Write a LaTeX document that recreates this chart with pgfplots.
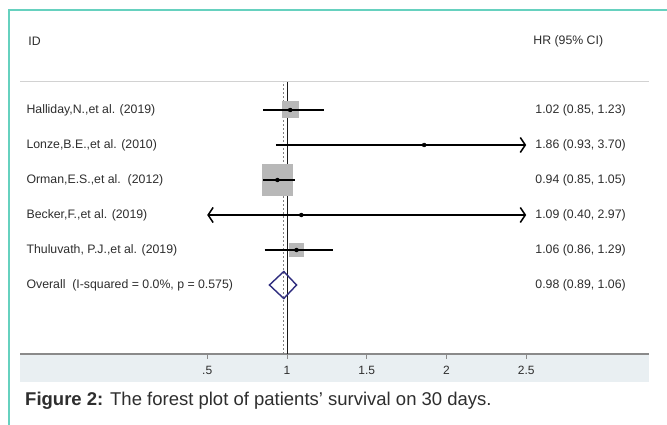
\documentclass[border=0pt]{standalone}
\usepackage{fontspec}
\setmainfont{Liberation Sans}
\usepackage{pgfplots}
\pgfplotsset{compat=1.18}
\usetikzlibrary{arrows.meta}
\definecolor{teal1}{HTML}{66D1BF}
\definecolor{band}{HTML}{E9EFF2}
\definecolor{boxgray}{HTML}{B8B8B8}
\definecolor{navy1}{HTML}{2E2C7E}
\definecolor{txt}{HTML}{2E2E2E}
\definecolor{axgray}{HTML}{8A8A8A}
\tikzset{
  lab/.style={anchor=west, font=\fontsize{12.3}{14}\selectfont, text=txt},
  ci/.style={black, line width=1.5pt},
  wbox/.style={fill=boxgray, draw=none}
}
\begin{document}
\begin{tikzpicture}[x=1pt,y=1pt]
\path[use as bounding box] (0,0) rectangle (667,425);
\fill[white] (0,0) rectangle (667,425);
\fill[band] (20,43) rectangle (649,71);
\draw[teal1, line width=1.8pt] (9,0) -- (9,415) -- (667,415);
\begin{axis}[at={(20pt,71pt)}, anchor=south west, scale only axis,
  width=629pt, height=344pt,
  xmin=-0.674, xmax=3.270, ymin=-0.971, ymax=8.857,
  clip=false,
  axis x line*=bottom, axis y line=none,
  x axis line style={-, draw=axgray, line width=1.3pt},
  xtick={0.5,1,1.5,2,2.5}, xticklabels={.5,1,1.5,2,2.5},
  tick align=outside, major tick length=5pt,
  tick style={draw=axgray, line width=0.8pt},
  xticklabel style={font=\fontsize{12}{14}\selectfont, text=txt, yshift=-4pt},
  /pgf/number format/assume math mode=true
]
% reference lines
\addplot[gray!35, line width=1pt] coordinates {(-0.674,6.8) (3.27,6.8)};
\addplot[black!90, line width=0.9pt] coordinates {(1,-0.971) (1,6.8)};
\addplot[gray, dashed, dash pattern=on 2pt off 2pt, line width=0.8pt] coordinates {(0.98,-0.971) (0.98,6.8)};
% weight boxes (half side: 8.5px, 15.8px, 7.5px)
\addplot[wbox] coordinates {(0.9667,5.757) (1.0733,5.757) (1.0733,6.243) (0.9667,6.243)} -- cycle;
\addplot[wbox] coordinates {(0.8409,3.549) (1.0391,3.549) (1.0391,4.451) (0.8409,4.451)} -- cycle;
\addplot[wbox] coordinates {(1.0130,1.786) (1.1070,1.786) (1.1070,2.214) (1.0130,2.214)} -- cycle;
% confidence intervals
\addplot[ci] coordinates {(0.85,6) (1.23,6)};
\addplot[ci, -{Straight Barb[length=5pt,width=15pt]}] coordinates {(0.93,5) (2.5,5)};
\addplot[ci] coordinates {(0.85,4) (1.05,4)};
\addplot[ci, {Straight Barb[length=5pt,width=15pt]}-{Straight Barb[length=5pt,width=15pt]}] coordinates {(0.5,3) (2.5,3)};
\addplot[ci] coordinates {(0.86,2) (1.29,2)};
% point estimates
\addplot[only marks, mark=*, mark size=2pt, black] coordinates {(1.02,6) (1.86,5) (0.94,4) (1.09,3) (1.06,2)};
% overall diamond
\addplot[navy1, line width=1.4pt, line join=miter] coordinates {(0.89,1) (0.98,1.386) (1.06,1) (0.98,0.614) (0.89,1) (0.98,1.386)};
% text
\node[lab] at (axis cs:-0.643,7.971) {ID};
\node[lab] at (axis cs:2.523,7.971) {HR (95\% CI)};
\node[lab] at (axis cs:-0.655,6) {Halliday,N.,et al. (2019)};
\node[lab] at (axis cs:-0.655,5) {Lonze,B.E.,et al. (2010)};
\node[lab] at (axis cs:-0.655,4) {Orman,E.S.,et al.\ \ (2012)};
\node[lab] at (axis cs:-0.655,3) {Becker,F.,et al. (2019)};
\node[lab] at (axis cs:-0.655,2) {Thuluvath, P.J.,et al. (2019)};
\node[lab] at (axis cs:-0.655,1) {Overall\ \ (I-squared = 0.0\%, p = 0.575)};
\node[lab] at (axis cs:2.536,6) {1.02 (0.85, 1.23)};
\node[lab] at (axis cs:2.536,5) {1.86 (0.93, 3.70)};
\node[lab] at (axis cs:2.536,4) {0.94 (0.85, 1.05)};
\node[lab] at (axis cs:2.536,3) {1.09 (0.40, 2.97)};
\node[lab] at (axis cs:2.536,2) {1.06 (0.86, 1.29)};
\node[lab] at (axis cs:2.536,1) {0.98 (0.89, 1.06)};
\end{axis}
\node[anchor=west, font=\fontsize{18.5}{21}\selectfont, text=txt, inner sep=0pt] at (25,24) {\textbf{Figure 2:} The forest plot of patients’ survival on 30 days.};
\end{tikzpicture}
\end{document}
